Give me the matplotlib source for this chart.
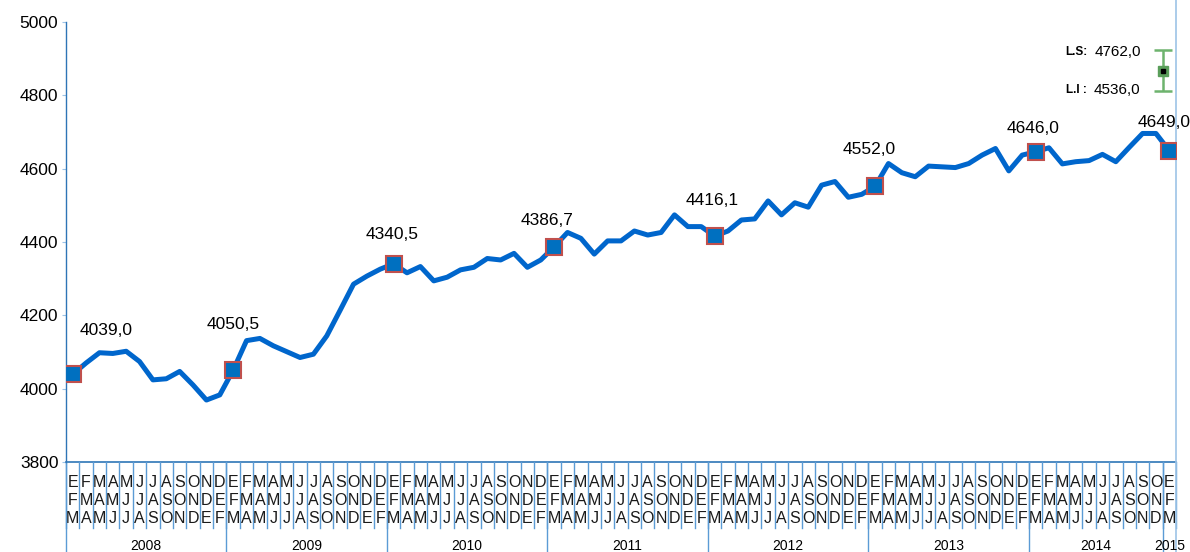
import numpy as np
import matplotlib
matplotlib.use("Agg")
import matplotlib.pyplot as plt
import matplotlib.transforms as mtransforms

plt.rcParams['font.family'] = ['Liberation Sans', 'DejaVu Sans']

# monthly series (rolling quarters), 2008 E-F-M .. 2015 E-F-M
values = [4039.0, 4070, 4098, 4096, 4102, 4074, 4024, 4027, 4047, 4010, 3969, 3983,
          4050.5, 4131, 4137, 4117, 4101, 4085, 4094, 4144, 4214, 4285, 4307, 4326,
          4340.5, 4316, 4333, 4294, 4304, 4324, 4331, 4355, 4351, 4369, 4331, 4351,
          4386.7, 4426, 4410, 4367, 4403, 4403, 4430, 4419, 4426, 4474, 4442, 4442,
          4416.1, 4430, 4460, 4463, 4512, 4474, 4507, 4495, 4555, 4565, 4522, 4530,
          4552.0, 4614, 4589, 4578, 4607, 4605, 4603, 4614, 4637, 4655, 4594, 4637,
          4646.0, 4657, 4613, 4619, 4622, 4639, 4619, 4658, 4696, 4696,
          4649.0]
highlight = [0, 12, 24, 36, 48, 60, 72, 82]
# label offsets in pixels (dx, dy) relative to marker
label_off = [(33, 44), (0, 46), (-2, 29), (-7, 26), (-2, 36), (-6, 37), (-3, 23), (-5, 28)]

months = ['E', 'F', 'M', 'A', 'M', 'J', 'J', 'A', 'S', 'O', 'N', 'D']
years = ['2008', '2009', '2010', '2011', '2012', '2013', '2014', '2015']
months_per_year = [12, 12, 12, 12, 12, 12, 10, 1]

# limits box (L.S / L.I)
ls_value, li_value = 4762.0, 4536.0
box_x, box_y, box_err = 81.5, 4867, 56

fig = plt.figure(figsize=(11.9, 5.52), dpi=100)
ax = fig.add_axes([66 / 1190, 90 / 552, 1110 / 1190, 440 / 552])

x = np.arange(len(values))
ax.plot(x, values, color='#0066CC', lw=3.6, solid_joinstyle='round', zorder=3)
hx = np.array(highlight)
hy = np.array([values[i] for i in highlight])
ax.plot(hx, hy, ls='none', marker='s', ms=11.5, mfc='#0070C0', mec='#C0504D',
        mew=1.5, zorder=4)
for (i, v), (dx, dy) in zip(zip(hx, hy), label_off):
    ax.annotate(f"{v:.1f}".replace('.', ','), (i, v), xytext=(dx, dy),
                textcoords='offset pixels', ha='center', va='center',
                fontsize=12.5, color='black', annotation_clip=False)

ax.set_xlim(-0.5, len(values) - 0.5)
ax.set_ylim(3800, 5000)
ax.set_yticks(np.arange(3800, 5001, 200))
ax.tick_params(axis='y', labelsize=12.5, length=3, color='#9DC3E6', pad=2.5)
ax.set_xticks([])

for s in ['top', 'right', 'bottom']:
    ax.spines[s].set_visible(False)
ax.spines['left'].set_linestyle((0, (1, 1)))
ax.spines['left'].set_color('#2E75B6')
ax.spines['left'].set_linewidth(1.0)

# category table below the axis
trans = mtransforms.blended_transform_factory(ax.transData, ax.transAxes)
n = len(values)
ax.plot([-0.5, n - 0.5], [0, 0], transform=trans, color='#2E75B6', lw=1.2, clip_on=False)
col_month = []
for y, cnt in enumerate(months_per_year):
    col_month += list(range(cnt))
for i in range(n + 1):
    ax.plot([i - 0.5, i - 0.5], [0, -0.15], transform=trans, color='#5B9BD5',
            lw=1.0, clip_on=False)
for i, m in enumerate(col_month):
    for r, yy in enumerate([-0.046, -0.087, -0.128]):
        ax.text(i, yy, months[(m + r) % 12], transform=trans, ha='center',
                va='center', fontsize=11.5, color='#1a1a1a')
start = 0
for yr, cnt in zip(years, months_per_year):
    ax.plot([start - 0.5, start - 0.5], [0, -0.205], transform=trans,
            color='#5B9BD5', lw=1.0, clip_on=False)
    ax.text(start + cnt / 2 - 0.5, -0.19, yr, transform=trans, ha='center',
            va='center', fontsize=10)
    start += cnt
ax.plot([n - 0.5, n - 0.5], [-0.205, 1.06], transform=trans, color='#9DC3E6',
        lw=1.2, clip_on=False)

# limits indicator
ax.errorbar([box_x], [box_y], yerr=box_err, color='#6DB36D', capsize=6.5,
            capthick=1.8, elinewidth=1.8, ls='none', zorder=5)
ax.plot([box_x], [box_y], marker='s', ms=7, mfc='#5A9E5A', mec='#5A9E5A', zorder=6)
ax.plot([box_x], [box_y], marker='s', ms=2.5, mfc='black', mec='black', zorder=7)
for lab, val, yy in [('L.S:', ls_value, 4918), ('L.I :', li_value, 4814)]:
    ax.annotate(lab, (box_x, yy), xytext=(-97, 0), textcoords='offset pixels',
                ha='left', va='center', fontsize=8.5, fontweight='bold')
    ax.annotate(f"{val:.1f}".replace('.', ','), (box_x, yy), xytext=(-22, 0),
                textcoords='offset pixels', ha='right', va='center', fontsize=11)

fig.savefig('out.png', dpi=100)
